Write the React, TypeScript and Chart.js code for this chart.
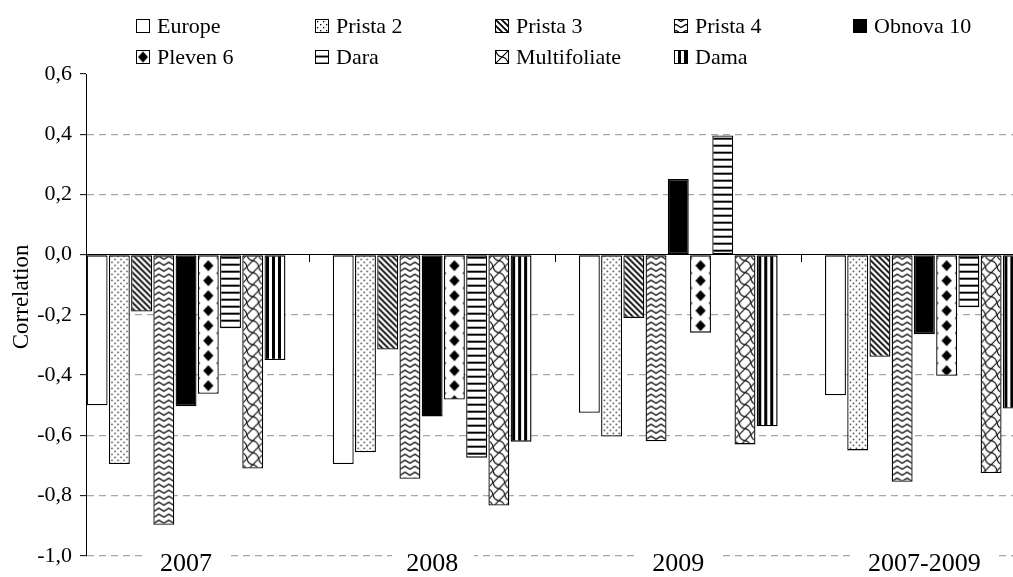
import React, { useEffect, useRef } from 'react';
import { Chart, registerables } from 'chart.js';

Chart.register(...registerables);

// ---------------- data ----------------
const CATEGORIES = ['2007', '2008', '2009', '2007-2009'];
const SERIES_NAMES = ['Europe', 'Prista 2', 'Prista 3', 'Prista 4', 'Obnova 10', 'Pleven 6', 'Dara', 'Multifoliate', 'Dama'];
const EUROPE = [-0.5, -0.695, -0.525, -0.467];
const PRISTA_2 = [-0.695, -0.656, -0.604, -0.65];
const PRISTA_3 = [-0.189, -0.315, -0.21, -0.339];
const PRISTA_4 = [-0.897, -0.744, -0.62, -0.754];
const OBNOVA_10 = [-0.503, -0.537, 0.251, -0.264];
const PLEVEN_6 = [-0.462, -0.481, -0.259, -0.402];
const DARA = [-0.244, -0.674, 0.396, -0.175];
const MULTIFOLIATE = [-0.71, -0.833, -0.63, -0.725];
const DAMA = [-0.35, -0.621, -0.57, -0.511];
const SERIES_VALUES = [EUROPE, PRISTA_2, PRISTA_3, PRISTA_4, OBNOVA_10, PLEVEN_6, DARA, MULTIFOLIATE, DAMA];
const Y_MIN = -1.0;
const Y_MAX = 0.6;
const Y_STEP = 0.2;
const Y_TITLE = 'Correlation';

// ---------------- layout / style constants ----------------
const FONT = '"Liberation Serif", "Times New Roman", serif';
const CAT_PCT = 200 / 246;
const BAR_PCT = 0.94;
const X_MAX = 3.36;
const GRID_GRAY = '#a6a6a6';

type Tile = { canvas: HTMLCanvasElement; w: number; h: number; dy: number };

function makeTile(w: number, h: number, dy: number, draw: (g: CanvasRenderingContext2D) => void): Tile {
  const c = document.createElement('canvas');
  c.width = w;
  c.height = h;
  const g = c.getContext('2d')!;
  g.fillStyle = '#ffffff';
  g.fillRect(0, 0, w, h);
  g.fillStyle = '#000000';
  g.strokeStyle = '#000000';
  draw(g);
  return { canvas: c, w, h, dy };
}

function buildTiles(): (Tile | string)[] {
  const dots = makeTile(6, 6, 0, (g) => {
    g.fillRect(1, 1, 1.3, 1.3);
    g.fillRect(4, 4, 1.3, 1.3);
  });
  const diag = makeTile(6, 6, 0, (g) => {
    g.lineWidth = 1.8;
    g.beginPath();
    g.moveTo(-1, -1); g.lineTo(7, 7);
    g.moveTo(-1, 5); g.lineTo(1, 7);
    g.moveTo(5, -1); g.lineTo(7, 1);
    g.stroke();
  });
  const zig = makeTile(10, 6, 0, (g) => {
    g.lineWidth = 1.2;
    g.beginPath();
    g.moveTo(-5, 4.5); g.lineTo(0, 1.5); g.lineTo(5, 4.5); g.lineTo(10, 1.5); g.lineTo(15, 4.5);
    g.stroke();
  });
  const diamonds = makeTile(22, 15, 3.5, (g) => {
    const dia = (cx: number, cy: number, rx: number, ry: number) => {
      g.beginPath();
      g.moveTo(cx, cy - ry); g.lineTo(cx + rx, cy); g.lineTo(cx, cy + ry); g.lineTo(cx - rx, cy);
      g.closePath();
      g.fill();
    };
    dia(11, 7.5, 5, 5.5);
    dia(0, 0, 3, 3);
    dia(22, 0, 3, 3);
    dia(0, 15, 3, 3);
    dia(22, 15, 3, 3);
  });
  const hlines = makeTile(4, 7, 0, (g) => {
    g.fillRect(0, 2, 4, 2);
  });
  const shingle = makeTile(12, 12, 0, (g) => {
    g.lineWidth = 1.1;
    g.beginPath();
    g.moveTo(-1, 13); g.lineTo(13, -1);
    g.moveTo(0, 0); g.quadraticCurveTo(1, 5, 6, 6);
    g.moveTo(6, 6); g.quadraticCurveTo(11, 7, 12, 12);
    g.stroke();
  });
  const vlines = makeTile(6, 2, 0, (g) => {
    g.fillRect(0, 0, 3, 2);
  });
  return ['#ffffff', dots, diag, zig, '#000000', diamonds, hlines, shingle, vlines];
}

export default function App() {
  const canvasRef = useRef<HTMLCanvasElement | null>(null);

  useEffect(() => {
    const canvas = canvasRef.current;
    if (!canvas) return;
    const ctx = canvas.getContext('2d')!;
    const tiles = buildTiles();
    const fills = tiles.map((t) => (typeof t === 'string' ? t : ctx.createPattern(t.canvas, 'repeat')!));

    const alignPlugin = {
      id: 'alignPatterns',
      beforeDatasetsDraw(chart: any) {
        const xs = chart.scales.x;
        const ys = chart.scales.y;
        const unit = xs.getPixelForValue(1) - xs.getPixelForValue(0);
        const y0 = ys.getPixelForValue(0);
        tiles.forEach((t, di) => {
          if (typeof t === 'string') return;
          const el = chart.getDatasetMeta(di).data[0] as any;
          if (!el) return;
          const n = Math.max(1, Math.round(unit / t.w));
          const sx = unit / (n * t.w);
          (fills[di] as CanvasPattern).setTransform(
            new DOMMatrix([sx, 0, 0, 1, el.x - (sx * t.w) / 2, y0 + t.dy])
          );
        });
      },
    };

    const decorPlugin = {
      id: 'decor',
      afterDraw(chart: any) {
        const c: CanvasRenderingContext2D = chart.ctx;
        const xs = chart.scales.x;
        const ys = chart.scales.y;
        const area = chart.chartArea;

        // category labels at the bottom
        c.save();
        c.font = `26px ${FONT}`;
        c.textAlign = 'center';
        c.textBaseline = 'alphabetic';
        const base = ys.getPixelForValue(Y_MIN);
        CATEGORIES.forEach((lab, i) => {
          const cx = xs.getPixelForValue(i);
          const w = c.measureText(lab).width;
          c.fillStyle = '#ffffff';
          c.fillRect(cx - w / 2 - 14, base - 3, w + 30, 8);
          c.fillStyle = '#000000';
          c.fillText(lab, cx, base + 15);
        });
        c.restore();

        // y axis title
        c.save();
        c.font = `23px ${FONT}`;
        c.fillStyle = '#000000';
        c.textAlign = 'center';
        c.textBaseline = 'middle';
        c.translate(22, (area.top + area.bottom) / 2 - 18);
        c.rotate(-Math.PI / 2);
        c.fillText(Y_TITLE, 0, 0);
        c.restore();

        // legend
        const LEFT = 136;
        const COL_W = 179.3;
        const ROW1 = 26;
        const ROW_H = 31;
        const BOX = 14;
        const COLS = 5;
        c.save();
        c.font = `22px ${FONT}`;
        c.textAlign = 'left';
        c.textBaseline = 'alphabetic';
        SERIES_NAMES.forEach((name, i) => {
          const col = i % COLS;
          const row = Math.floor(i / COLS);
          const bx = Math.round(LEFT + col * COL_W);
          const cy = ROW1 + row * ROW_H;
          const by = Math.round(cy - BOX / 2);
          const t = tiles[i];
          if (typeof t === 'string') {
            c.fillStyle = t;
          } else {
            const p = c.createPattern(t.canvas, 'repeat')!;
            p.setTransform(new DOMMatrix([1, 0, 0, 1, bx + BOX / 2 - t.w / 2, by + BOX / 2 - t.h / 2]));
            c.fillStyle = p;
          }
          c.fillRect(bx, by, BOX, BOX);
          c.strokeStyle = '#000000';
          c.lineWidth = 1;
          c.strokeRect(bx + 0.5, by + 0.5, BOX - 1, BOX - 1);
          c.fillStyle = '#000000';
          c.fillText(name, bx + BOX + 7, cy + 7);
        });
        c.restore();
      },
    };

    const chart = new Chart(ctx, {
      type: 'bar',
      data: {
        datasets: SERIES_NAMES.map((name, di) => ({
          label: name,
          data: SERIES_VALUES[di].map((v, i) => ({ x: i, y: v })),
          backgroundColor: fills[di] as any,
          borderColor: '#000000',
          borderWidth: 1.3,
          borderSkipped: false,
          categoryPercentage: CAT_PCT,
          barPercentage: BAR_PCT,
        })),
      },
      options: {
        animation: false,
        responsive: true,
        maintainAspectRatio: false,
        layout: { padding: { top: 74, bottom: 17.5, left: 0, right: 0 } },
        plugins: {
          legend: { display: false },
          tooltip: { enabled: false },
          title: { display: false },
        },
        scales: {
          x: {
            type: 'linear',
            min: -CAT_PCT / 2,
            max: X_MAX,
            offset: false,
            position: { y: 0 } as any,
            afterBuildTicks: (scale: any) => {
              scale.ticks = CATEGORIES.slice(1).map((_, i) => ({ value: i + 0.5 }));
            },
            ticks: { display: false },
            grid: {
              display: true,
              offset: false,
              drawOnChartArea: false,
              drawTicks: true,
              tickLength: 7,
              tickColor: '#000000',
              tickWidth: 1,
            },
            border: { display: true, color: '#000000', width: 1 },
          },
          y: {
            type: 'linear',
            min: Y_MIN,
            max: Y_MAX,
            afterFit: (scale: any) => {
              scale.width = 86;
            },
            ticks: {
              stepSize: Y_STEP,
              color: '#000000',
              padding: 8,
              font: { family: FONT, size: 22 },
              callback: (v: any) => Number(v).toFixed(1).replace('.', ','),
            },
            grid: {
              color: (c: any) => {
                const val = c.tick ? c.tick.value : 0;
                if (Math.abs(val) < 1e-9 || val > Y_MAX - 1e-9) return 'rgba(0,0,0,0)';
                return GRID_GRAY;
              },
              lineWidth: 1.3,
              drawTicks: true,
              tickLength: 6,
              tickColor: '#000000',
              tickWidth: 1,
              tickBorderDash: [],
            },
            border: { display: true, color: '#000000', width: 1, dash: [7, 5] },
          },
        },
      },
      plugins: [alignPlugin, decorPlugin],
    });

    return () => {
      chart.destroy();
    };
  }, []);

  return (
    <div style={{ position: 'absolute', left: 0, top: 0, width: 1013, height: 577, background: '#ffffff' }}>
      <canvas ref={canvasRef} />
    </div>
  );
}
